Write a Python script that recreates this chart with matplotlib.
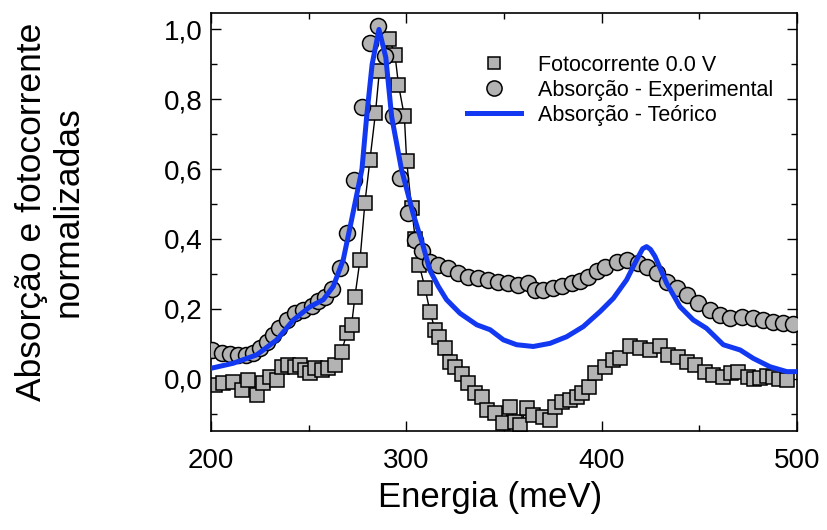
import numpy as np
import matplotlib
matplotlib.use("Agg")
import matplotlib.pyplot as plt
from matplotlib.ticker import MultipleLocator, FuncFormatter

plt.rcParams['font.family'] = ['Liberation Sans', 'DejaVu Sans']

# Fotocorrente 0.0 V (quadrados)
foto_x = [202, 206.3, 211.4, 215.7, 219, 223.5, 226.8, 230.3, 233.7, 236.2,
          239.6, 243, 245.6, 248.1, 250.7, 253.3, 256.7, 260.1, 263.5, 266.9,
          269.5, 272, 273.7, 276.3, 278.8, 281.4, 284.2, 286.2, 291.3, 294.2,
          296, 299, 300.2, 302.7, 304.6, 306.6, 309.6, 312.1, 314.7, 316.9,
          319.8, 322.4, 324.9, 328.4, 331.8, 335.2, 338.7, 341.2, 345.4, 349.7,
          353.1, 355.7, 358.2, 361.7, 365.1, 370.2, 373.6, 376.2, 379.6, 383.9,
          387.3, 389.9, 393.3, 396.6, 401.7, 406, 409.4, 414.5, 419.7, 424.8,
          429.9, 434.2, 439.3, 443.6, 447.8, 452.9, 457.2, 462.3, 466, 470,
          475.1, 478, 481.1, 484.5, 487.9, 491, 494.8]
foto_y = [-0.018, -0.013, -0.009, -0.032, -0.004, -0.047, -0.013, 0.006, -0.004, 0.034,
          0.039, 0.034, 0.039, 0.025, 0.015, 0.030, 0.025, 0.030, 0.039, 0.077,
          0.130, 0.154, 0.235, 0.340, 0.503, 0.627, 0.760, 0.880, 0.973, 0.927,
          0.842, 0.751, 0.622, 0.488, 0.400, 0.326, 0.259, 0.192, 0.140, 0.120,
          0.087, 0.049, 0.034, 0.013, -0.013, -0.042, -0.052, -0.090, -0.099, -0.128,
          -0.080, -0.123, -0.133, -0.085, -0.104, -0.109, -0.118, -0.080, -0.066, -0.061,
          -0.052, -0.042, -0.023, 0.015, 0.034, 0.054, 0.058, 0.092, 0.087, 0.082,
          0.092, 0.068, 0.063, 0.049, 0.039, 0.020, 0.011, 0.006, 0.015, 0.020,
          0.006, 0.000, 0.001, 0.008, 0.006, 0.000, -0.004]

# Absorcao experimental (circulos)
abs_x = [200.4, 205.5, 209.7, 214, 218, 221.5, 225, 228.5, 231.8, 235,
         238.7, 243, 247, 251.5, 254.8, 258.4, 261.8, 266, 269.5, 273.3,
         277.4, 281.4, 285.3, 289, 293.3, 296.8, 301.1, 304.4, 307.8, 312,
         316.4, 321.5, 326.6, 331.7, 336.9, 342, 347, 352.2, 357.3, 362.5,
         365.9, 370.2, 375.3, 379.6, 384.7, 389, 393.2, 397.5, 401.7, 407.7,
         412.8, 418.7, 423, 428.2, 433.3, 438.4, 443.6, 449.5, 455.5, 460.6,
         465.7, 471.7, 477.6, 482.7, 487.8, 493, 498.2]
abs_y = [0.082, 0.073, 0.071, 0.068, 0.068, 0.073, 0.088, 0.106, 0.125, 0.145,
         0.168, 0.188, 0.197, 0.208, 0.221, 0.235, 0.256, 0.318, 0.417, 0.569,
         0.777, 0.961, 1.011, 0.923, 0.751, 0.574, 0.474, 0.397, 0.364, 0.335,
         0.326, 0.316, 0.302, 0.292, 0.288, 0.283, 0.278, 0.273, 0.269, 0.273,
         0.254, 0.254, 0.259, 0.264, 0.273, 0.280, 0.292, 0.308, 0.321, 0.335,
         0.340, 0.331, 0.321, 0.302, 0.278, 0.259, 0.240, 0.216, 0.197, 0.183,
         0.173, 0.176, 0.173, 0.168, 0.163, 0.160, 0.157]

# Absorcao teorica (linha azul)
teo_x = [200.4, 211.4, 223.4, 233.7, 242.2, 250.7, 257.5, 262.6, 267.7, 272,
         277.3, 279.7, 282.5, 286, 289.5, 292.5, 297.5, 303.6, 308.7, 312,
         316.4, 320.6, 327.5, 336.1, 342.9, 349.7, 356.5, 365, 373.6, 382.1,
         390.6, 399.2, 406, 412.8, 417.9, 421, 423, 425, 427.3, 433.3,
         440.1, 446.9, 453.7, 462.3, 470.9, 477.6, 486.2, 494.8, 499.9]
teo_y = [0.030, 0.044, 0.068, 0.111, 0.168, 0.206, 0.226, 0.264, 0.340, 0.455,
         0.600, 0.750, 0.900, 1.000, 0.920, 0.750, 0.600, 0.470, 0.378, 0.311,
         0.264, 0.226, 0.187, 0.154, 0.140, 0.111, 0.097, 0.092, 0.101, 0.120,
         0.149, 0.192, 0.230, 0.283, 0.340, 0.372, 0.378, 0.370, 0.350, 0.273,
         0.206, 0.168, 0.144, 0.097, 0.082, 0.058, 0.034, 0.020, 0.020]

fig = plt.figure(figsize=(8.27, 5.30), dpi=100)
ax = fig.add_axes([0.2551, 0.1868, 0.7086, 0.7887])

cinza = '#b3b3b3'
# linha fina que liga os quadrados (sem entrada na legenda)
ax.plot(foto_x, foto_y, '-', color='black', lw=1.0, zorder=2)
ax.plot(foto_x, foto_y, 's', ms=9.5, mfc=cinza, mec='black', mew=1.1,
        label='Fotocorrente 0.0 V', zorder=2)
ax.plot(abs_x, abs_y, 'o', ms=11.5, mfc=cinza, mec='black', mew=1.1,
        label='Absorção - Experimental', zorder=3)
ax.plot(teo_x, teo_y, '-', color='#1238f2', lw=3.6,
        label='Absorção - Teórico', zorder=4)

ax.set_xlim(200, 500)
ax.set_ylim(-0.15, 1.047)
ax.xaxis.set_major_locator(MultipleLocator(100))
ax.xaxis.set_minor_locator(MultipleLocator(50))
ax.yaxis.set_major_locator(MultipleLocator(0.2))
ax.yaxis.set_minor_locator(MultipleLocator(0.1))
ax.yaxis.set_major_formatter(FuncFormatter(lambda v, p: f'{v:.1f}'.replace('.', ',')))

ax.tick_params(which='both', direction='in', top=True, right=True, width=1.0)
ax.tick_params(which='major', length=7, labelsize=20)
ax.tick_params(axis='x', which='major', pad=12)
ax.tick_params(axis='y', which='major', pad=6)
ax.tick_params(which='minor', length=4)
for s in ax.spines.values():
    s.set_linewidth(1.2)

fig.text(0.593, 0.062, 'Energia (meV)', ha='center', va='center', fontsize=25)
fig.text(0.06, 0.6, 'Absorção e fotocorrente\nnormalizadas', rotation=90,
         ha='center', va='center', multialignment='center', fontsize=25.5,
         linespacing=1.15)

ax.legend(loc='upper left', bbox_to_anchor=(0.437, 0.90), frameon=False,
          fontsize=15.5, handlelength=2.5, handletextpad=0.8,
          labelspacing=0.18, borderpad=0, borderaxespad=0, markerscale=0.95)

fig.savefig('out.png', dpi=100)
